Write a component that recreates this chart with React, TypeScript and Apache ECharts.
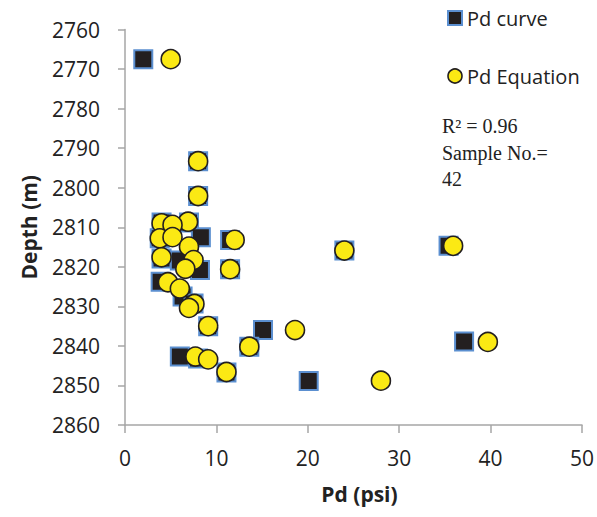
import React, { useEffect, useRef } from "react";
import * as echarts from "echarts";

const xTicks = [0, 10, 20, 30, 40, 50];
const yTicks = [2760, 2770, 2780, 2790, 2800, 2810, 2820, 2830, 2840, 2850, 2860];

// Pd curve (squares): [Pd psi, depth m]
const pdCurve: [number, number][] = [
  [2.0, 2767.5], [8.0, 2793.3], [8.0, 2802.1], [4.0, 2808.8], [7.0, 2808.8],
  [8.3, 2812.5], [11.5, 2813.2], [3.8, 2812.8], [4.0, 2817.9], [6.0, 2818.4],
  [8.2, 2820.8], [11.5, 2820.6], [3.9, 2823.8], [6.3, 2827.5], [7.5, 2829.3],
  [9.1, 2835.0], [15.1, 2836.0], [6.0, 2842.7], [8.0, 2843.2], [11.1, 2846.7],
  [13.6, 2840.2], [20.1, 2848.9], [24.0, 2815.9], [35.4, 2814.7], [37.1, 2838.9],
];

// Pd Equation (circles): [Pd psi, depth m]
const pdEquation: [number, number][] = [
  [5.0, 2767.5], [8.0, 2793.3], [8.0, 2802.1], [4.0, 2809.0], [6.9, 2808.6],
  [5.2, 2809.4], [3.8, 2812.8], [5.2, 2812.5], [12.0, 2813.2], [7.0, 2814.9],
  [4.0, 2817.6], [7.5, 2818.3], [6.6, 2820.5], [11.5, 2820.6], [4.7, 2823.9],
  [6.0, 2825.5], [7.6, 2829.4], [7.0, 2830.4], [9.1, 2835.0], [7.7, 2842.7],
  [9.1, 2843.4], [11.1, 2846.6], [13.6, 2840.2], [18.6, 2836.0], [24.0, 2815.9],
  [35.9, 2814.7], [39.7, 2839.0], [28.0, 2848.8],
];

const annotation = ["R\u00B2 = 0.96", "Sample No.=", "42"];

const squareStyle = { color: "#231f20", borderColor: "#5b8fd0", borderWidth: 2, opacity: 1 };
const circleStyle = { color: "#fbe914", borderColor: "#231f20", borderWidth: 1.6, opacity: 1 };

export default function App() {
  const ref = useRef<HTMLDivElement>(null);
  useEffect(() => {
    if (!ref.current) return;
    const chart = echarts.init(ref.current, undefined, { renderer: "svg" });
    const sans = "'Open Sans', sans-serif";
    const axisColor = "#a6a6a6";
    chart.setOption({
      animation: false,
      grid: { left: 125, right: 14, top: 29.5, bottom: 92, containLabel: false },
      legend: {
        orient: "vertical",
        left: 442,
        top: 3,
        itemWidth: 14,
        itemHeight: 14,
        itemGap: 38,
        textStyle: { fontFamily: sans, fontSize: 20, color: "#222", lineHeight: 20 },
        data: [
          { name: "Pd curve", icon: "rect", itemStyle: squareStyle },
          { name: "Pd Equation", icon: "circle", itemStyle: circleStyle },
        ],
      },
      xAxis: {
        type: "value",
        min: xTicks[0],
        max: xTicks[xTicks.length - 1],
        interval: 10,
        name: "Pd (psi)",
        nameLocation: "middle",
        nameGap: 58,
        nameTextStyle: { fontFamily: sans, fontSize: 21, fontWeight: "bold", color: "#222", padding: [0, 0, 0, 12] },
        axisLine: { show: true, lineStyle: { color: axisColor, width: 1.5 } },
        axisTick: { show: true, inside: false, length: 8, lineStyle: { color: axisColor, width: 1.5 } },
        axisLabel: { fontFamily: sans, fontSize: 21, color: "#222", margin: 22, formatter: (v: number) => String(v) },
        splitLine: { show: false },
      },
      yAxis: {
        type: "value",
        inverse: true,
        min: yTicks[0],
        max: yTicks[yTicks.length - 1],
        interval: 10,
        name: "Depth (m)",
        nameLocation: "middle",
        nameGap: 86,
        nameTextStyle: { fontFamily: sans, fontSize: 21, fontWeight: "bold", color: "#222" },
        axisLine: { show: true, lineStyle: { color: axisColor, width: 1.5 } },
        axisTick: { show: true, inside: false, length: 7, lineStyle: { color: axisColor, width: 1.5 } },
        axisLabel: { fontFamily: sans, fontSize: 21, color: "#222", margin: 25, formatter: (v: number) => String(v) },
        splitLine: { show: false },
      },
      series: [
        {
          name: "Pd curve",
          type: "scatter",
          symbol: "rect",
          symbolSize: 18,
          itemStyle: squareStyle,
          data: pdCurve,
          z: 2,
        },
        {
          name: "Pd Equation",
          type: "scatter",
          symbol: "circle",
          symbolSize: 19,
          itemStyle: circleStyle,
          data: pdEquation,
          z: 3,
        },
      ],
      graphic: annotation.map((t, i) => ({
        type: "text",
        left: 442,
        top: 116 + i * 26.7,
        style: {
          text: t,
          fontFamily: "'Liberation Serif', 'Times New Roman', serif",
          fontSize: 20,
          fill: "#222",
        },
      })),
    });
    return () => chart.dispose();
  }, []);
  return <div ref={ref} style={{ width: 597, height: 517, position: "absolute", left: 0, top: 0 }} />;
}
